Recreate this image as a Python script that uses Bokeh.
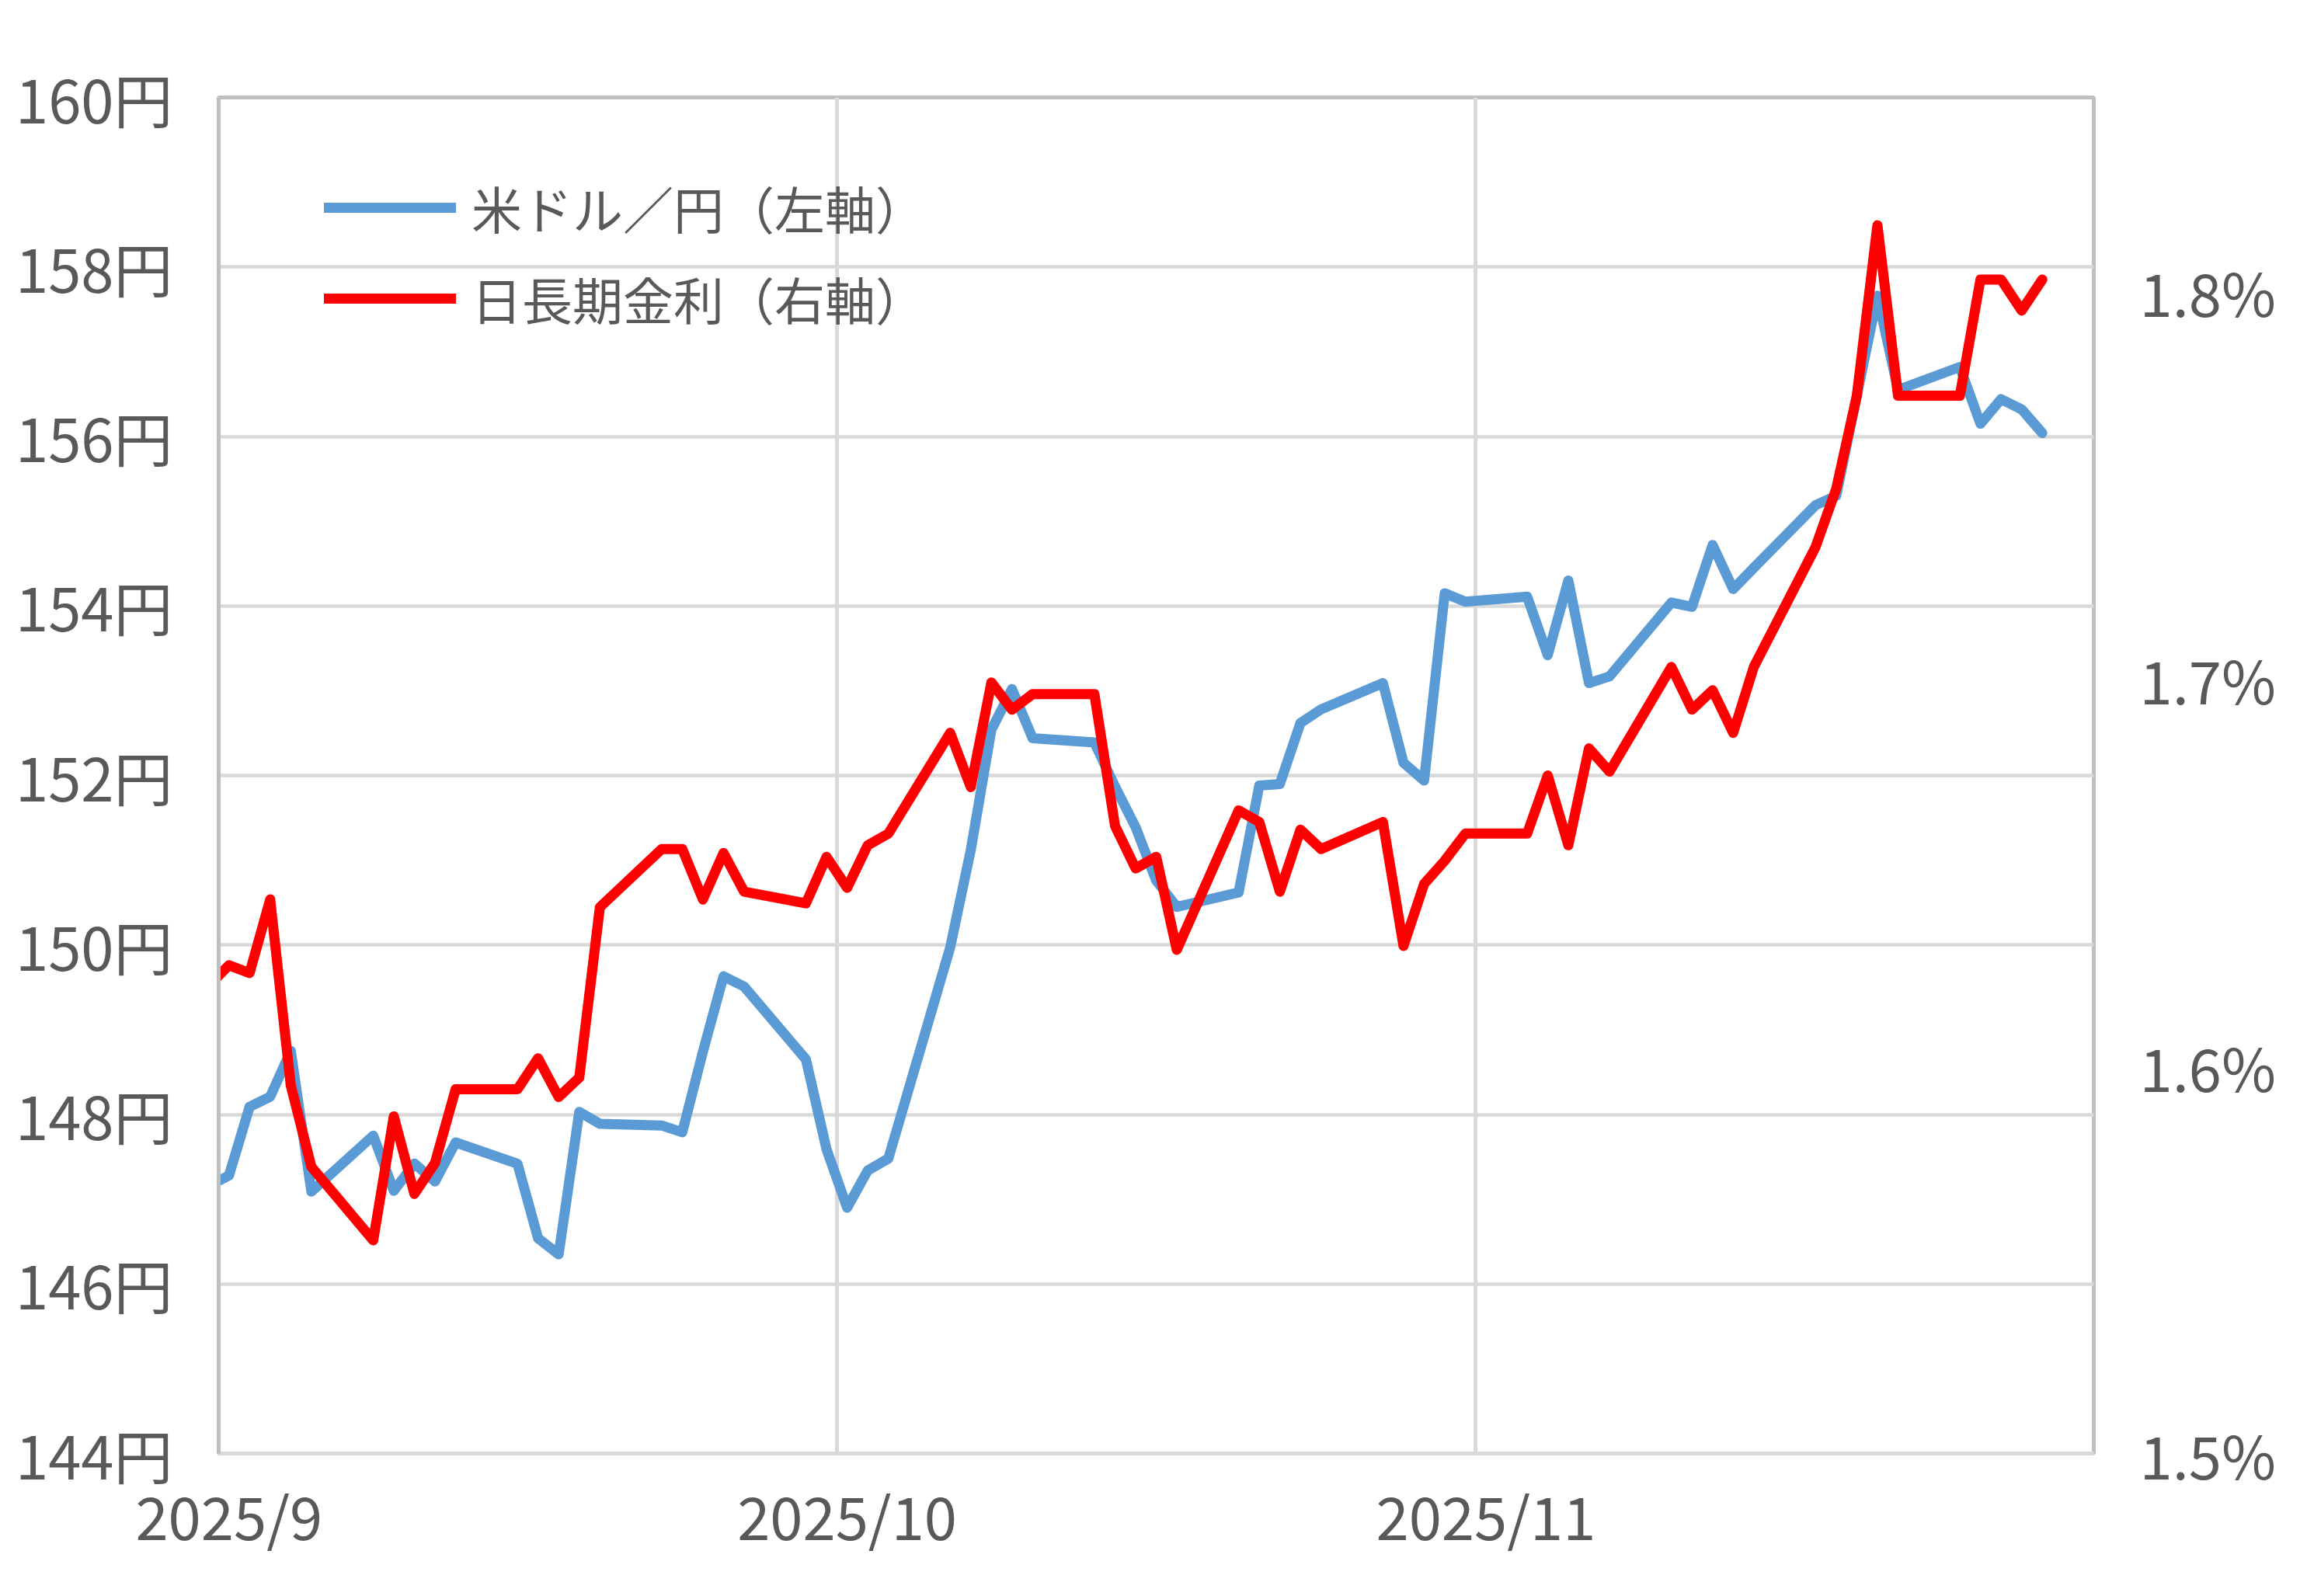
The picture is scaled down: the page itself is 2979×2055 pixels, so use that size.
import pandas as pd
from bokeh.plotting import figure
from bokeh.models import (Range1d, LinearAxis, FixedTicker, PrintfTickFormatter,
                          CustomJSTickFormatter, Legend, LegendItem, ColumnDataSource)
from bokeh.embed import file_html
from bokeh.resources import INLINE

# ---------------- data ----------------
dates = [
    "2025-08-29",
    "2025-09-01", "2025-09-02", "2025-09-03", "2025-09-04", "2025-09-05",
    "2025-09-08", "2025-09-09", "2025-09-10", "2025-09-11", "2025-09-12",
    "2025-09-15", "2025-09-16", "2025-09-17", "2025-09-18", "2025-09-19",
    "2025-09-22", "2025-09-23", "2025-09-24", "2025-09-25", "2025-09-26",
    "2025-09-29", "2025-09-30", "2025-10-01", "2025-10-02", "2025-10-03",
    "2025-10-06", "2025-10-07", "2025-10-08", "2025-10-09", "2025-10-10",
    "2025-10-13", "2025-10-14", "2025-10-15", "2025-10-16", "2025-10-17",
    "2025-10-20", "2025-10-21", "2025-10-22", "2025-10-23", "2025-10-24",
    "2025-10-27", "2025-10-28", "2025-10-29", "2025-10-30", "2025-10-31",
    "2025-11-03", "2025-11-04", "2025-11-05", "2025-11-06", "2025-11-07",
    "2025-11-10", "2025-11-11", "2025-11-12", "2025-11-13", "2025-11-14",
    "2025-11-17", "2025-11-18", "2025-11-19", "2025-11-20", "2025-11-21",
    "2025-11-24", "2025-11-25", "2025-11-26", "2025-11-27", "2025-11-28",
]

usdjpy = [
    146.90,
    147.28, 148.09, 148.21, 148.75, 147.09,
    147.75, 147.10, 147.42, 147.21, 147.67,
    147.42, 146.54, 146.35, 148.03, 147.89,
    147.87, 147.79, 148.74, 149.63, 149.51,
    148.65, 147.59, 146.90, 147.34, 147.48,
    149.97, 151.12, 152.54, 153.02, 152.44,
    152.39, 151.87, 151.39, 150.76, 150.45,
    150.62, 151.88, 151.90, 152.62, 152.78,
    153.09, 152.15, 151.94, 154.15, 154.05,
    154.11, 153.42, 154.30, 153.09, 153.17,
    154.04, 153.99, 154.72, 154.20, 154.45,
    155.19, 155.30, 156.48, 157.66, 156.55,
    156.82, 156.15, 156.44, 156.32, 156.04,
]

jgb10y = [
    1.610,
    1.626, 1.624, 1.643, 1.595, 1.574,
    1.555, 1.587, 1.567, 1.575, 1.594,
    1.594, 1.602, 1.592, 1.597, 1.641,
    1.656, 1.656, 1.643, 1.655, 1.645,
    1.642, 1.654, 1.646, 1.657, 1.660,
    1.686, 1.672, 1.699, 1.692, 1.696,
    1.696, 1.662, 1.651, 1.654, 1.630,
    1.666, 1.663, 1.645, 1.661, 1.656,
    1.663, 1.631, 1.647, 1.653, 1.660,
    1.660, 1.675, 1.657, 1.682, 1.676,
    1.703, 1.692, 1.697, 1.686, 1.703,
    1.734, 1.749, 1.773, 1.817, 1.773,
    1.773, 1.803, 1.803, 1.795, 1.803,
]

month_ticks = ["2025-09-01", "2025-10-01", "2025-11-01"]
x_start, x_end = "2025-09-01", "2025-12-01"
left_ticks = [144, 146, 148, 150, 152, 154, 156, 158, 160]
right_ticks = [1.5, 1.6, 1.7, 1.8]
left_range = (144, 160)
right_range = (1.5, 1.85)

series_labels = ["米ドル／円（左軸）", "日長期金利（右軸）"]

# ---------------- styling ----------------
FONT = "Noto Sans CJK JP"
TXT = "#595959"
GRID = "#D9D9D9"
EDGE = "#BFBFBF"
TICK_FS = "76px"

# date axis "between tick marks": each day's point/label sits mid-slot
half_day = pd.Timedelta(hours=12)
x = pd.to_datetime(dates) + half_day
src = ColumnDataSource(dict(x=x, usd=usdjpy, jgb=jgb10y))

p = figure(width=2963, height=2039, x_axis_type="datetime",
           x_range=Range1d(pd.Timestamp(x_start), pd.Timestamp(x_end)),
           y_range=Range1d(*left_range),
           output_backend="svg", toolbar_location=None,
           min_border_left=281, min_border_right=268,
           min_border_top=125, min_border_bottom=168)
p.background_fill_color = "white"
p.border_fill_color = "white"
p.outline_line_color = EDGE
p.outline_line_width = 5

grid_ms = [pd.Timestamp(t).value / 1e6 for t in month_ticks]
label_ms = [(pd.Timestamp(t) + half_day).value / 1e6 for t in month_ticks]

xax = p.below[0]
xax.ticker = FixedTicker(ticks=label_ms)
xax.formatter = CustomJSTickFormatter(
    code="const d = new Date(tick); return d.getUTCFullYear() + '/' + (d.getUTCMonth() + 1);")
xax.axis_line_color = GRID
xax.axis_line_width = 5
xax.major_tick_line_color = None
xax.minor_tick_line_color = None
xax.major_label_text_font = FONT
xax.major_label_text_font_size = TICK_FS
xax.major_label_text_color = TXT
xax.major_label_standoff = 17

yax = p.left[0]
yax.ticker = FixedTicker(ticks=left_ticks)
yax.formatter = PrintfTickFormatter(format="%d円")
yax.axis_line_color = EDGE
yax.axis_line_width = 5
yax.major_tick_line_color = None
yax.minor_tick_line_color = None
yax.major_label_text_font = FONT
yax.major_label_text_font_size = TICK_FS
yax.major_label_text_color = TXT
yax.major_label_standoff = 53

p.extra_y_ranges = {"rate": Range1d(*right_range)}
rax = LinearAxis(y_range_name="rate", ticker=FixedTicker(ticks=right_ticks),
                 formatter=PrintfTickFormatter(format="%.1f%%"))
rax.axis_line_color = None
rax.major_tick_line_color = None
rax.minor_tick_line_color = None
rax.major_label_text_font = FONT
rax.major_label_text_font_size = TICK_FS
rax.major_label_text_color = TXT
rax.major_label_standoff = 53
p.add_layout(rax, "right")

p.xgrid.ticker = FixedTicker(ticks=grid_ms)
p.xgrid.grid_line_color = GRID
p.xgrid.grid_line_width = 5
p.ygrid.grid_line_color = GRID
p.ygrid.grid_line_width = 4.5

r_usd = p.line("x", "usd", source=src, line_color="#5B9BD5", line_width=13,
               line_join="round", line_cap="round")
r_jgb = p.line("x", "jgb", source=src, y_range_name="rate", line_color="#FF0000",
               line_width=13, line_join="round", line_cap="round")

legend = Legend(items=[LegendItem(label=series_labels[0], renderers=[r_usd]),
                       LegendItem(label=series_labels[1], renderers=[r_jgb])],
                location=(136, 1439))
legend.glyph_width = 170
legend.glyph_height = 96
legend.label_height = 96
legend.label_standoff = 20
legend.spacing = 21
legend.padding = 0
legend.margin = 0
legend.border_line_color = None
legend.background_fill_alpha = 0
legend.label_text_font = FONT
legend.label_text_font_size = "65px"
legend.label_text_color = TXT
p.add_layout(legend)

open("out.html", "w").write(file_html(p, INLINE))
